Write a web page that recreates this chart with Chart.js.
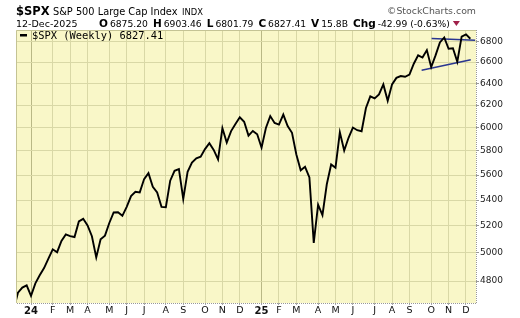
<!DOCTYPE html>
<html>
<head>
<meta charset="utf-8">
<script src="https://cdn.jsdelivr.net/npm/chart.js@4.4.1/dist/chart.umd.min.js"></script>
<style>
  html, body { margin: 0; padding: 0; background: #fff; }
  #wrap { width: 520px; height: 318px; }
</style>
</head>
<body>
<div id="wrap"><canvas id="spx" width="520" height="318"></canvas></div>
<script>
// weekly closes, week-ending dates
const weeks = [
  '2023-12-08','2023-12-15','2023-12-22','2023-12-29',
  '2024-01-05','2024-01-12','2024-01-19','2024-01-26','2024-02-02','2024-02-09','2024-02-16','2024-02-23',
  '2024-03-01','2024-03-08','2024-03-15','2024-03-22','2024-03-28','2024-04-05','2024-04-12','2024-04-19',
  '2024-04-26','2024-05-03','2024-05-10','2024-05-17','2024-05-24','2024-05-31','2024-06-07','2024-06-14',
  '2024-06-21','2024-06-28','2024-07-05','2024-07-12','2024-07-19','2024-07-26','2024-08-02','2024-08-09',
  '2024-08-16','2024-08-23','2024-08-30','2024-09-06','2024-09-13','2024-09-20','2024-09-27','2024-10-04',
  '2024-10-11','2024-10-18','2024-10-25','2024-11-01','2024-11-08','2024-11-15','2024-11-22','2024-11-29',
  '2024-12-06','2024-12-13','2024-12-20','2024-12-27',
  '2025-01-03','2025-01-10','2025-01-17','2025-01-24','2025-01-31','2025-02-07','2025-02-14','2025-02-21',
  '2025-02-28','2025-03-07','2025-03-14','2025-03-21','2025-03-28','2025-04-04','2025-04-11','2025-04-17',
  '2025-04-25','2025-05-02','2025-05-09','2025-05-16','2025-05-23','2025-05-30','2025-06-06','2025-06-13',
  '2025-06-20','2025-06-27','2025-07-03','2025-07-11','2025-07-18','2025-07-25','2025-08-01','2025-08-08',
  '2025-08-15','2025-08-22','2025-08-29','2025-09-05','2025-09-12','2025-09-19','2025-09-26','2025-10-03',
  '2025-10-10','2025-10-17','2025-10-24','2025-10-31','2025-11-07','2025-11-14','2025-11-21','2025-11-28',
  '2025-12-05','2025-12-12'
];
const closes = [
  4604.37, 4719.19, 4754.63, 4769.83,
  4697.24, 4783.83, 4839.81, 4890.97, 4958.61, 5026.61, 5005.57, 5088.80,
  5137.08, 5123.69, 5117.09, 5234.18, 5254.35, 5204.34, 5123.41, 4967.23,
  5099.96, 5127.79, 5222.68, 5303.27, 5304.72, 5277.51, 5346.99, 5431.60,
  5464.62, 5460.48, 5567.19, 5615.35, 5505.00, 5459.10, 5346.56, 5344.16,
  5554.25, 5634.61, 5648.40, 5408.42, 5626.02, 5702.55, 5738.17, 5751.07,
  5815.03, 5864.67, 5808.12, 5728.80, 5995.54, 5870.62, 5969.34, 6032.38,
  6090.27, 6051.09, 5930.85, 5970.84,
  5942.47, 5827.04, 5996.66, 6101.24, 6040.53, 6025.99, 6114.63, 6013.13,
  5954.50, 5770.20, 5638.94, 5667.56, 5580.94, 5074.08, 5363.36, 5282.70,
  5525.21, 5686.67, 5659.91, 5958.38, 5802.82, 5911.69, 6000.36, 5976.97,
  5967.84, 6173.07, 6279.35, 6259.75, 6296.79, 6388.64, 6238.01, 6389.45,
  6449.80, 6466.91, 6460.26, 6481.50, 6584.29, 6664.36, 6643.70, 6715.79,
  6552.51, 6664.01, 6791.69, 6840.20, 6728.80, 6734.11, 6602.99, 6849.09,
  6870.40, 6827.41
];
const monthLetters = ['J','F','M','A','M','J','J','A','S','O','N','D'];
const priceTicks = [4800, 5000, 5200, 5400, 5600, 5800, 6000, 6200, 6400, 6600, 6800];
// hand-drawn trendlines (week index, price)
const upperTrend = [{ x: 96.1, y: 6830 }, { x: 106.1, y: 6812 }];
const lowerTrend = [{ x: 93.8, y: 6521 }, { x: 105.1, y: 6622 }];
const quote = [['O', '6875.20'], ['H', '6903.46'], ['L', '6801.79'], ['C', '6827.41'], ['V', '15.8B'], ['Chg', '-42.99 (-0.63%)']];

const BG = '#f9f7c8';
const GRID = '#d9d8a6';
const GRID_YEAR = '#b9b886';

// first week whose Monday falls in a new month gets a grid line
const monthTicks = [];
(function () {
  let prev = null;
  weeks.forEach((d, i) => {
    const dt = new Date(d + 'T00:00:00Z');
    const mon = new Date(dt.getTime() - (dt.getUTCDay() - 1) * 864e5);
    const key = mon.getUTCFullYear() * 12 + mon.getUTCMonth();
    if (prev !== null && key !== prev) {
      const m = mon.getUTCMonth();
      monthTicks.push({ value: i, year: m === 0, label: m === 0 ? String(mon.getUTCFullYear()).slice(2) : monthLetters[m] });
    }
    prev = key;
  });
})();
const tickAt = v => monthTicks.find(t => t.value === v);

const chrome = {
  id: 'chrome',
  beforeDraw(chart) {
    const { ctx, chartArea: a } = chart;
    ctx.save();
    ctx.fillStyle = '#fff';
    ctx.fillRect(0, 0, chart.width, chart.height);
    ctx.fillStyle = BG;
    ctx.fillRect(a.left, a.top, a.right - a.left, a.bottom - a.top);
    ctx.restore();
  },
  afterDraw(chart) {
    const { ctx, chartArea: a } = chart;
    ctx.save();
    // top / left frame
    ctx.strokeStyle = '#c4c394';
    ctx.lineWidth = 1;
    ctx.beginPath();
    ctx.moveTo(a.left + 0.5, a.bottom);
    ctx.lineTo(a.left + 0.5, a.top + 0.5);
    ctx.lineTo(a.right, a.top + 0.5);
    ctx.stroke();
    // dotted right / bottom axes
    ctx.strokeStyle = '#999';
    ctx.setLineDash([1, 1]);
    ctx.beginPath();
    ctx.moveTo(a.right + 0.5, a.top);
    ctx.lineTo(a.right + 0.5, a.bottom + 0.5);
    ctx.lineTo(a.left, a.bottom + 0.5);
    ctx.stroke();
    ctx.setLineDash([]);

    // title row
    ctx.fillStyle = '#000';
    ctx.textBaseline = 'alphabetic';
    ctx.font = 'bold 11.5px "DejaVu Sans"';
    ctx.fillText('$SPX', 16, 15);
    ctx.font = '9.8px "DejaVu Sans"';
    ctx.fillText('S&P 500 Large Cap Index', 53, 15);
    ctx.font = '8.4px "DejaVu Sans"';
    ctx.fillText('INDX', 182, 15);
    ctx.fillStyle = '#555';
    ctx.font = '9.4px "DejaVu Sans"';
    ctx.textAlign = 'right';
    ctx.fillText('\u00A9StockCharts.com', 476, 14);
    ctx.textAlign = 'left';

    // quote row
    ctx.fillStyle = '#000';
    ctx.font = '9.5px "DejaVu Sans"';
    ctx.fillText('12-Dec-2025', 16, 26.5);
    let x = 99;
    quote.forEach(([k, v]) => {
      ctx.font = 'bold 10.5px "DejaVu Sans"';
      ctx.fillText(k, x, 26.5);
      x += ctx.measureText(k).width + 2;
      ctx.font = '9.2px "DejaVu Sans"';
      ctx.fillText(v, x, 26.5);
      x += ctx.measureText(v).width + 5;
    });
    ctx.fillStyle = '#a0204a';
    ctx.beginPath();
    ctx.moveTo(x - 2, 21);
    ctx.lineTo(x + 5, 21);
    ctx.lineTo(x + 1.5, 26);
    ctx.closePath();
    ctx.fill();

    // legend inside plot
    ctx.fillStyle = '#000';
    ctx.fillRect(20, 34, 7, 2.5);
    ctx.font = '10.4px "DejaVu Sans Mono"';
    ctx.fillText('$SPX (Weekly) 6827.41', 32, 39);
    ctx.restore();
  }
};

new Chart(document.getElementById('spx'), {
  type: 'line',
  data: {
    datasets: [
      {
        data: closes.map((c, i) => ({ x: i, y: c })),
        borderColor: '#000',
        borderWidth: 1.9,
        pointRadius: 0,
        tension: 0,
        clip: 0
      },
      {
        data: upperTrend,
        borderColor: '#2a3690',
        borderWidth: 1.5,
        pointRadius: 0,
        clip: 0
      },
      {
        data: lowerTrend,
        borderColor: '#2a3690',
        borderWidth: 1.5,
        pointRadius: 0,
        clip: 0
      }
    ]
  },
  options: {
    responsive: false,
    animation: false,
    layout: { padding: { top: 30, left: 16, right: 0, bottom: 0 } },
    plugins: { legend: { display: false }, tooltip: { enabled: false } },
    scales: {
      x: {
        type: 'linear',
        min: 0.55,
        max: 106.3,
        afterBuildTicks: s => { s.ticks = monthTicks.map(t => ({ value: t.value })); },
        afterFit: s => { s.height = 15; },
        grid: {
          color: c => (c.tick && tickAt(c.tick.value) && tickAt(c.tick.value).year) ? GRID_YEAR : GRID,
          tickColor: '#aaa',
          tickLength: 2
        },
        border: { display: false },
        ticks: {
          autoSkip: false,
          maxRotation: 0,
          padding: 0,
          color: '#111',
          font: c => {
            const t = c.tick && tickAt(c.tick.value);
            return t && t.year ? { family: 'DejaVu Sans', size: 10, weight: 'bold' } : { family: 'DejaVu Sans', size: 9.5 };
          },
          callback: v => { const t = tickAt(v); return t ? t.label : ''; }
        }
      },
      y: {
        type: 'logarithmic',
        position: 'right',
        min: 4649,
        max: 6915,
        afterBuildTicks: s => { s.ticks = priceTicks.map(v => ({ value: v })); },
        afterFit: s => { s.width = 44; },
        grid: { color: GRID, tickColor: '#999', tickLength: 3 },
        border: { display: false },
        ticks: {
          padding: 1,
          color: '#222',
          font: { family: 'DejaVu Sans', size: 9 },
          callback: v => String(v)
        }
      }
    }
  },
  plugins: [chrome]
});
</script>
</body>
</html>
